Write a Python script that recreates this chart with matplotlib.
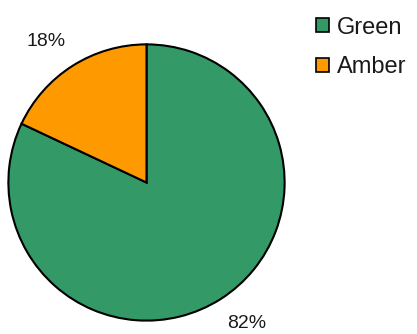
import matplotlib
matplotlib.use("Agg")
import matplotlib.pyplot as plt
import numpy as np

plt.rcParams['font.family'] = ['Liberation Sans', 'DejaVu Sans']

labels = ["Green", "Amber"]
shares = [82, 18]
colors = ["#339966", "#FF9900"]

fig = plt.figure(figsize=(4.17, 3.34), dpi=100)
# pie box in pixels: left 7, bottom 12, 279 x 279
ax = fig.add_axes([7 / 417, 12 / 334, 279 / 417, 279 / 334])

wedges, _ = ax.pie(
    shares, colors=colors, startangle=90, counterclock=False, radius=1,
    wedgeprops=dict(edgecolor="black", linewidth=1.5),
)

# percentage labels just outside each wedge, nudged a little counter-clockwise
total = sum(shares)
for w, v in zip(wedges, shares):
    mid = np.radians((w.theta1 + w.theta2) / 2 + 3)
    ax.text(1.255 * np.cos(mid), 1.255 * np.sin(mid), f"{v / total * 100:.0f}%",
            ha="center", va="center", fontsize=14, color="#1a1a1a")

ax.set_xlim(-1.01, 1.01)
ax.set_ylim(-1.01, 1.01)
ax.set_aspect("equal")
ax.axis("off")

leg = fig.legend(
    wedges, labels, loc="upper left", bbox_to_anchor=(299 / 417, 1.0),
    frameon=False, fontsize=17, handlelength=0.55, handleheight=0.55,
    handletextpad=0.35, labelspacing=0.75, borderaxespad=0.3,
)
for h in leg.legend_handles:
    h.set_linewidth(1.2)
for t in leg.get_texts():
    t.set_color("#1a1a1a")

fig.savefig("out.png", dpi=100)
